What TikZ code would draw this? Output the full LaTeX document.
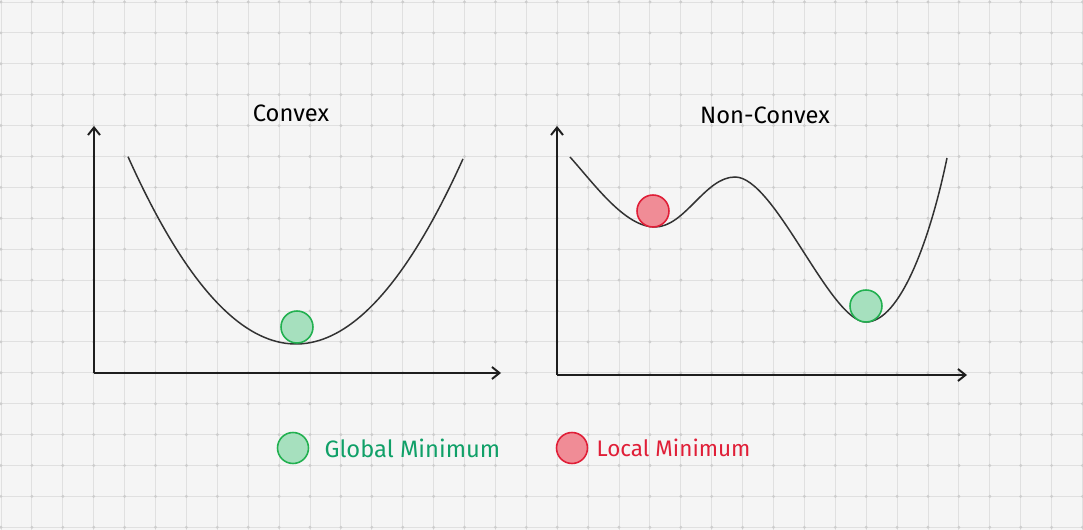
\documentclass[tikz,border=0pt]{standalone}
\usepackage{fontspec}
\setmainfont{Fira Sans}
\usetikzlibrary{positioning,arrows.meta}

\definecolor{paper}{RGB}{245,245,245}
\definecolor{gridgray}{RGB}{224,224,224}
\definecolor{dotgray}{RGB}{205,205,205}
\definecolor{inkdark}{RGB}{30,30,30}
\definecolor{curvegray}{RGB}{50,50,50}
\definecolor{globalline}{RGB}{34,176,80}
\definecolor{globalfill}{RGB}{166,224,190}
\definecolor{globaltext}{RGB}{16,160,104}
\definecolor{localline}{RGB}{224,30,55}
\definecolor{localfill}{RGB}{240,140,150}

\tikzset{
  axis/.style={draw=inkdark, line width=1.1pt, -{Straight Barb[length=1.5mm,width=2.4mm]}},
  curve/.style={draw=curvegray, line width=0.85pt},
  ball/.style={circle, minimum size=0.64cm, inner sep=0pt, line width=0.9pt},
  globalball/.style={ball, draw=globalline, fill=globalfill},
  localball/.style={ball, draw=localline, fill=localfill},
  heading/.style={font=\fontsize{13.5}{16}\selectfont, text=black},
  legendtext/.style={font=\fontsize{13.5}{16}\selectfont, inner sep=0pt, anchor=west}
}

\begin{document}
\begin{tikzpicture}[x=0.02cm,y=-0.02cm]

  \def\cell{30.9}
  % --- paper and grid ---
  \fill[paper] (0,0) rectangle (1083,530);
  \useasboundingbox (0,0) rectangle (1083,530);
  \foreach \i in {0,...,35} \draw[gridgray, line width=0.5pt] (1+\i*\cell,0) -- (1+\i*\cell,530);
  \foreach \j in {0,...,17} \draw[gridgray, line width=0.5pt] (0,2+\j*\cell) -- (1083,2+\j*\cell);
  \foreach \i in {0,...,35}
    \foreach \j in {0,...,17}
      \fill[dotgray] (1+\i*\cell,2+\j*\cell) circle (1.6);

  % --- convex plot ---
  \coordinate (corigin) at (94,373);
  \coordinate (cytop) at (94,126);
  \coordinate (cxend) at (501,373);
  \draw[axis] (corigin) -- (cytop);
  \draw[axis] (corigin) -- (cxend);
  \draw[curve] plot[domain=128:463, samples=80] (\x,{344-0.00663*(\x-296)*(\x-296)});
  \node[globalball] (cball) at (297,327) {};
  \node[heading] (ctitle) at (291,113) {Convex};

  % --- non-convex plot ---
  \coordinate (norigin) at (557,375);
  \coordinate (nytop) at (557,126);
  \coordinate (nxend) at (967,375);
  \draw[axis] (norigin) -- (nytop);
  \draw[axis] (norigin) -- (nxend);
  \draw[curve] (570,157) .. controls (595,185) and (625,227) .. (655,227)
    .. controls (685,227) and (705,177) .. (735,177)
    .. controls (775,177) and (830,322) .. (866,322)
    .. controls (900,322) and (930,240) .. (947,158);
  \node[localball] (lball) at (653,211) {};
  \node[globalball] (gball) at (866,306) {};
  \node[heading] (ntitle) at (765,115) {Non-Convex};

  % --- legend ---
  \node[globalball, minimum size=0.62cm] (gleg) at (293,448) {};
  \node[legendtext, text=globaltext, right=3mm of gleg] (gtext) {Global Minimum};
  \node[localball, minimum size=0.62cm] (lleg) at (572,448) {};
  \node[legendtext, text=localline, right=1.6mm of lleg, font=\fontsize{12.8}{16}\selectfont] (ltext) {Local Minimum};

\end{tikzpicture}
\end{document}
